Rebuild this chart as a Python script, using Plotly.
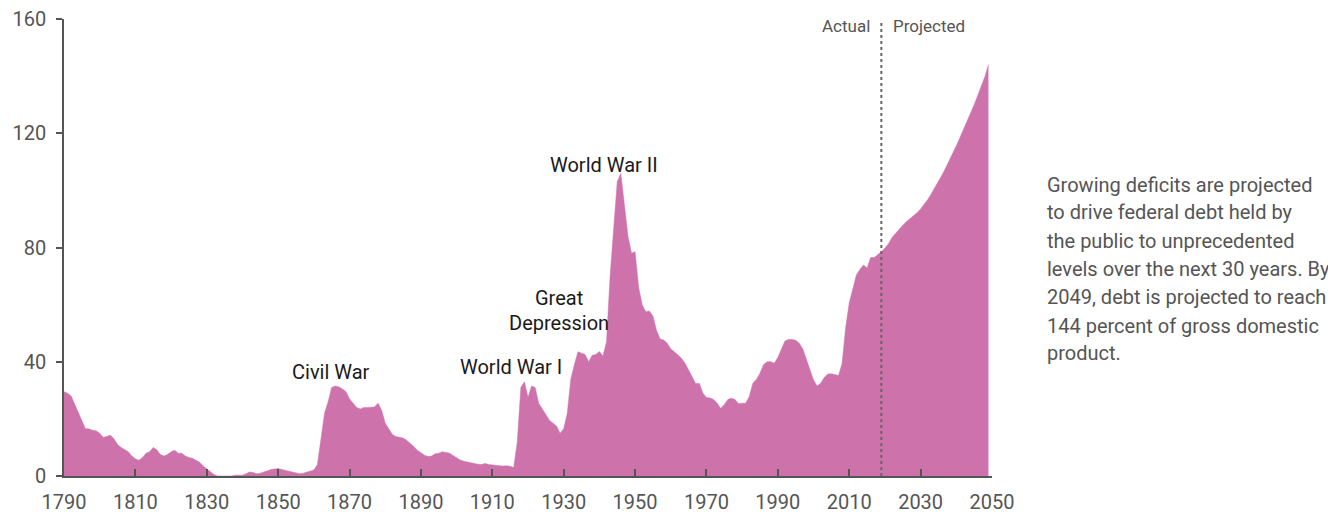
import plotly.graph_objects as go

years = list(range(1790, 2050))
debt = [
    29.5, 29, 28, 25, 22, 19, 16.5, 16.5, 16, 15.8,            # 1790s
    15, 13.5, 14, 14.3, 13, 11, 10, 9.3, 8.5, 7,                # 1800s
    6, 5.5, 6.5, 8, 8.5, 10, 9.2, 7.5, 7, 7.5,                  # 1810s
    8.5, 9, 8, 8, 7, 6.5, 6.2, 5.5, 4.8, 3.5,                   # 1820s
    2.5, 1.5, 0.5, 0, 0, 0, 0, 0, 0.3, 0.2,                     # 1830s
    0.3, 0.8, 1.4, 1.2, 0.8, 1.0, 1.3, 1.8, 2.3, 2.5,           # 1840s
    2.6, 2.3, 2.0, 1.5, 1.2, 1.0, 0.8, 1.0, 1.4, 1.8,           # 1850s
    2.1, 4, 14, 22, 26, 31, 31.5, 31.2, 30.5, 29.5,             # 1860s
    27, 25.5, 24, 23.5, 24, 24, 24, 24.2, 25.5, 23,             # 1870s
    18.5, 16.5, 14.5, 13.8, 13.5, 13.3, 12.5, 11.5, 10.3, 9,    # 1880s
    8, 7.3, 6.8, 7, 7.8, 8, 8.5, 8.3, 8, 7.2,                   # 1890s
    6.3, 5.6, 5.2, 4.9, 4.6, 4.3, 4.1, 4.0, 4.4, 4.0,           # 1900s
    3.8, 3.7, 3.6, 3.5, 3.6, 3.4, 3.0, 12, 31, 33,              # 1910s
    27.5, 31.5, 31, 25.5, 23.5, 21.5, 19.5, 18.5, 17.5, 15,     # 1920s
    16.5, 22, 34, 39, 43.5, 43, 42.5, 40, 42.3, 42.5,           # 1930s
    43.6, 42, 47, 70, 88, 103, 106, 96, 84, 78,                 # 1940s
    78.5, 66, 60, 57.5, 57.8, 56, 51, 48, 47.6, 46.5,           # 1950s
    44.5, 43.5, 42.3, 41.2, 39.5, 37, 34.8, 32.3, 32.5, 29,     # 1960s
    27.5, 27.3, 26.8, 25.5, 23.6, 25, 26.8, 27.2, 26.8, 25.3,   # 1970s
    25.5, 25.5, 27.8, 32.5, 33.8, 36, 39, 40, 40, 39.5,         # 1980s
    41.5, 44.5, 47.3, 47.8, 47.8, 47.5, 46.5, 44.5, 41, 37.5,   # 1990s
    33.6, 31.5, 32.5, 34.5, 35.7, 35.8, 35.4, 35.2, 39.4, 52,   # 2000s
    60.6, 65.5, 70.4, 72.3, 73.9, 72.8, 76.5, 76.5, 77.4, 78.5, # 2010s
    79.8, 81.3, 83.5, 85, 86.3, 87.8, 89, 90, 91, 92.2,         # 2020s
    93.5, 95, 96.8, 98.8, 100.9, 103.1, 105.4, 107.8, 110.3, 112.9,  # 2030s
    115.6, 118.4, 121.2, 124.1, 127, 130, 133.2, 136.4, 139.8, 144,  # 2040s
]

x_ticks = list(range(1790, 2051, 20))
y_ticks = [0, 40, 80, 120, 160]
divider_year = 2019

events = [
    ("Civil War", 1864.7, 36.5),
    ("World War I", 1915.1, 38.3),
    ("Great", 1928.6, 62.2),
    ("Depression", 1928.6, 53.5),
    ("World War II", 1941.2, 108.9),
]

note_lines = [
    "Growing deficits are projected",
    "to drive federal debt held by",
    "the public to unprecedented",
    "levels over the next 30 years. By",
    "2049, debt is projected to reach",
    "144 percent of gross domestic",
    "product.",
]

FILL = "#CD72AB"
GRAY = "#555555"
FONT = "Roboto"

# the page body has an 8px margin, so figure coordinates = screen coordinates - 8
OFF = 8
plot_left, plot_right, plot_top, plot_bottom = 64 - OFF, 992 - OFF, 19 - OFF, 476 - OFF
W, H = 1336, 512
pw = plot_right - plot_left
ph = plot_bottom - plot_top

fig = go.Figure()
fig.add_trace(go.Scatter(
    x=years, y=debt, mode="lines", fill="tozeroy",
    fillcolor=FILL, line=dict(color=FILL, width=0.5),
    hoverinfo="skip", showlegend=False,
))

fig.add_shape(type="line", xref="x", yref="y",
              x0=divider_year, x1=divider_year, y0=0, y1=159.5,
              line=dict(color="#666666", width=2, dash="dot"))

annotations = []
for text, xv, yv in events:
    annotations.append(dict(x=xv, y=yv, xref="x", yref="y", text=text,
                            showarrow=False, xanchor="center", yanchor="middle",
                            font=dict(family=FONT, size=20, color="#1a1a1a")))

annotations.append(dict(x=divider_year - 2.6, y=157.5, xref="x", yref="y", text="Actual",
                        showarrow=False, xanchor="right", yanchor="middle",
                        font=dict(family=FONT, size=17, color=GRAY)))
annotations.append(dict(x=divider_year + 2.6, y=157.5, xref="x", yref="y", text="Projected",
                        showarrow=False, xanchor="left", yanchor="middle",
                        font=dict(family=FONT, size=17, color=GRAY)))

line_y = [185, 212, 241, 269, 297, 326, 353]
for txt, ly in zip(note_lines, line_y):
    annotations.append(dict(x=(1045 - OFF - plot_left) / pw,
                            y=(plot_bottom - (ly - OFF)) / ph,
                            xref="paper", yref="paper", text=txt, showarrow=False,
                            xanchor="left", yanchor="middle",
                            font=dict(family=FONT, size=20, color=GRAY)))

fig.update_layout(
    width=W, height=H,
    margin=dict(l=plot_left, r=W - plot_right, t=plot_top, b=H - plot_bottom,
                autoexpand=False),
    paper_bgcolor="white", plot_bgcolor="white",
    annotations=annotations,
    font=dict(family=FONT, color=GRAY),
    xaxis=dict(range=[1790, 2050], tickvals=x_ticks, showgrid=False, zeroline=False,
               showline=True, linecolor=GRAY, linewidth=1.5, automargin=False,
               ticks="inside", ticklen=7, tickwidth=1.5, tickcolor=GRAY,
               ticklabelstandoff=7, ticklabeloverflow="allow",
               tickfont=dict(family=FONT, size=20, color=GRAY)),
    yaxis=dict(range=[0, 160], tickvals=y_ticks, showgrid=False, zeroline=False,
               showline=True, linecolor=GRAY, linewidth=1.5, automargin=False,
               ticks="outside", ticklen=6, tickwidth=1.5, tickcolor=GRAY,
               ticklabelstandoff=6, ticklabeloverflow="allow",
               tickfont=dict(family=FONT, size=20, color=GRAY)),
)

fig.write_html("out.html")
